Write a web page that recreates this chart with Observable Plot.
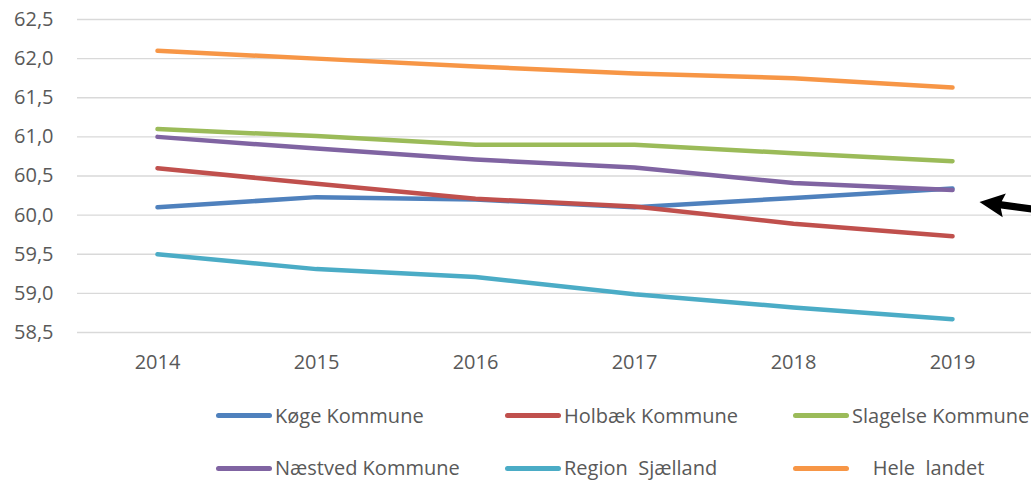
<!DOCTYPE html>
<html>
<head>
<meta charset="utf-8">
<script src="https://cdn.jsdelivr.net/npm/d3@7"></script>
<script src="https://cdn.jsdelivr.net/npm/@observablehq/plot@0.6"></script>
<style>
  html, body { margin: 0; padding: 0; background: #fff; }
  #wrap { position: relative; width: 1031px; height: 480px; overflow: hidden; font-family: "Open Sans", sans-serif; }
  #legend { position: absolute; left: 0; top: 0; width: 1031px; height: 480px; pointer-events: none; }
  .item { position: absolute; display: flex; align-items: center; height: 22px; line-height: 22px; white-space: pre; font-size: 20px; color: #595959; }
  .sw { display: inline-block; width: 56px; height: 5px; border-radius: 3px; margin-right: 3px; }
</style>
</head>
<body>
<div id="wrap"><div id="chart"></div><div id="legend"></div></div>
<script>
const years = ["2014", "2015", "2016", "2017", "2018", "2019"];
const seriesNames = ["Køge Kommune", "Holbæk Kommune", "Slagelse Kommune", "Næstved Kommune", "Region  Sjælland", "    Hele  landet"];
const seriesColors = ["#4F81BD", "#C0504D", "#9BBB59", "#8064A2", "#4BACC6", "#F79646"];
const koege    = [60.10, 60.23, 60.20, 60.10, 60.22, 60.34];
const holbaek  = [60.60, 60.40, 60.21, 60.11, 59.89, 59.73];
const slagelse = [61.10, 61.01, 60.90, 60.90, 60.79, 60.69];
const naestved = [61.00, 60.85, 60.71, 60.61, 60.41, 60.32];
const region   = [59.50, 59.31, 59.21, 58.99, 58.82, 58.67];
const heleLandet = [62.10, 62.00, 61.90, 61.81, 61.75, 61.63];
const yTicks = [58.5, 59.0, 59.5, 60.0, 60.5, 61.0, 61.5, 62.0, 62.5];

const allSeries = [koege, holbaek, slagelse, naestved, region, heleLandet];
const rows = [];
allSeries.forEach((vals, i) => vals.forEach((v, j) => rows.push({series: seriesNames[i], year: years[j], value: v})));

const fmt = d => d.toFixed(1).replace(".", ",");

const chart = Plot.plot({
  width: 1031,
  height: 390,
  marginLeft: 77,
  marginRight: 0,
  marginTop: 19,
  marginBottom: 58,
  style: {fontFamily: "'Open Sans', sans-serif", fontSize: "20px", color: "#595959", background: "transparent"},
  x: {type: "point", domain: years, padding: 0.5},
  y: {domain: [58.5, 62.5]},
  color: {domain: seriesNames, range: seriesColors},
  marks: [
    Plot.gridY(yTicks, {stroke: "#d9d9d9", strokeOpacity: 1, strokeWidth: 1.3}),
    Plot.axisY({ticks: yTicks, tickFormat: fmt, tickSize: 0, tickPadding: 24, label: null, fill: "#595959"}),
    Plot.axisX({tickSize: 0, tickPadding: 22, label: null, fill: "#595959"}),
    Plot.line(rows, {x: "year", y: "value", z: "series", stroke: "series", strokeWidth: 4.5, strokeLinecap: "round", strokeLinejoin: "round"})
  ]
});
document.getElementById("chart").appendChild(chart);

// Annotation arrow pointing at the Køge Kommune 2019 endpoint
const xs = chart.scale("x"), ys = chart.scale("y");
const tipX = xs.apply(years[years.length - 1]) + 27.5;
const tipY = ys.apply(koege[koege.length - 1]) + 14;
const ux = 0.991, uy = 0.131; // direction from tip to tail
const px = -uy, py = ux;
const headLen = 25, headHalf = 12, shaftHalf = 3.6, tailLen = 80;
const P = (a, b) => [tipX + ux * a + px * b, tipY + uy * a + py * b];
const pts = [P(0, 0), P(headLen, headHalf), P(headLen - 3, shaftHalf), P(tailLen, shaftHalf), P(tailLen, -shaftHalf), P(headLen - 3, -shaftHalf), P(headLen, -headHalf)];
d3.select(chart).append("path")
  .attr("d", "M" + pts.map(p => p.join(",")).join("L") + "Z")
  .attr("fill", "#000");

// Legend
const legendCols = [216, 505, 793];
const legendRows = [415.5, 468];
const legend = document.getElementById("legend");
seriesNames.forEach((name, i) => {
  const item = document.createElement("div");
  item.className = "item";
  item.style.left = legendCols[i % 3] + "px";
  item.style.top = (legendRows[Math.floor(i / 3)] - 11) + "px";
  const sw = document.createElement("span");
  sw.className = "sw";
  sw.style.background = seriesColors[i];
  const tx = document.createElement("span");
  tx.textContent = name;
  item.appendChild(sw);
  item.appendChild(tx);
  legend.appendChild(item);
});
</script>
</body>
</html>
